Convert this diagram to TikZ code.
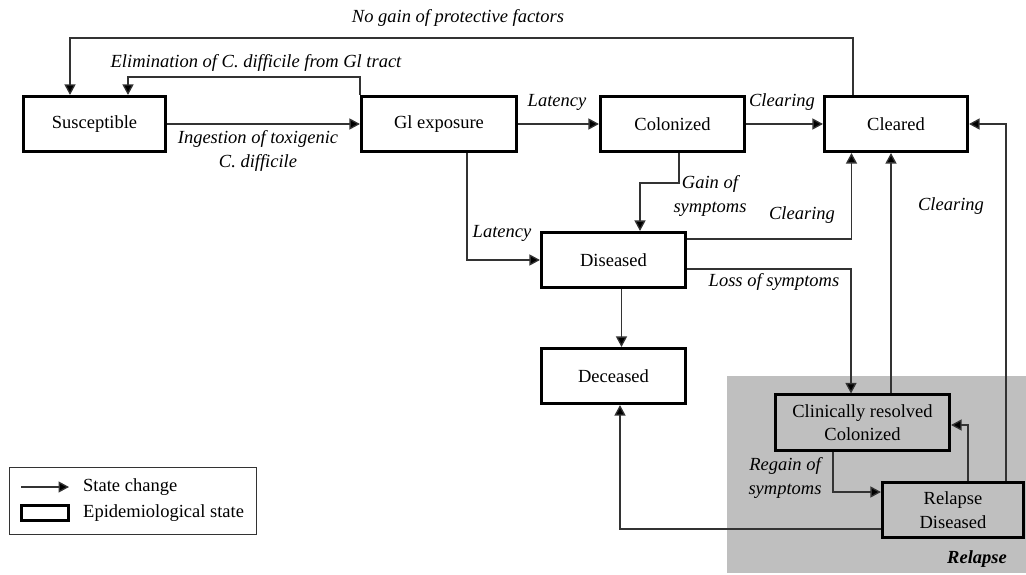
\documentclass[tikz,border=0pt]{standalone}
\usepackage{fontspec}
\setmainfont{Liberation Serif}
\usetikzlibrary{arrows.meta}
\begin{document}
\begin{tikzpicture}[x=1pt,y=-1pt,
  every node/.style={font=\fontsize{18.5}{23.5}\selectfont},
  state/.style={draw=black,line width=2.6pt,fill=white,minimum height=55.5pt,inner sep=0pt,align=center},
  lab/.style={font=\fontsize{18.5}{23.5}\selectfont\itshape,inner sep=0pt,align=center},
  arr/.style={draw=black!80,line width=1.3pt,-{Triangle[length=10.5pt,width=11pt,fill=black]}}]
\useasboundingbox (0,0) rectangle (1026,575);
% relapse region
\node[fill=black!25,inner sep=0pt,minimum width=299pt,minimum height=197pt,anchor=north west] (relbg) at (727,376) {};
\node[font=\fontsize{18.5}{23.5}\selectfont\bfseries\itshape,inner sep=0pt] (rellab) at (977,559) {Relapse};
% states
\node[state,minimum width=142.5pt] (sus) at (94.5,124) {Susceptible};
\node[state,minimum width=155.5pt] (gi) at (439,124) {Gl exposure};
\node[state,minimum width=144.5pt] (col) at (672.5,124) {Colonized};
\node[state,minimum width=143.5pt] (clr) at (896,124) {Cleared};
\node[state,minimum width=144.5pt] (dis) at (613.5,260) {Diseased};
\node[state,minimum width=143.5pt] (dec) at (613.5,376) {Deceased};
\node[state,fill=black!25,minimum width=174.5pt] (cli) at (862.5,422.5) {Clinically resolved\\Colonized};
\node[state,fill=black!25,minimum width=141.5pt] (rel) at (953,510) {Relapse\\Diseased};
% helper coordinates
\coordinate (topy) at (0,38);
\coordinate (elimy) at (0,77);
\coordinate (gainy) at (0,183);
% connectors
\draw[arr] (sus) -- (gi);
\draw[arr] (gi) -- (col);
\draw[arr] (col) -- (clr);
\draw[arr] ([xshift=-43pt]clr.north) -- ([xshift=-43pt]clr.north |- topy) -| ([xshift=-24.5pt]sus.north);
\draw[arr] (gi.north west) -- (gi.north west |- elimy) -| ([xshift=33.5pt]sus.north);
\draw[arr] ([xshift=28pt]gi.south) |- (dis.west);
\draw[arr] ([xshift=6.5pt]col.south) -- ([xshift=6.5pt]col.south |- gainy) -| ([xshift=26.5pt]dis.north);
\draw[arr] ([yshift=21pt]dis.east) -| ([xshift=-44.5pt]clr.south);
\draw[arr] ([yshift=-9pt]dis.east) -| ([xshift=-11.5pt]cli.north);
\draw[arr] ([xshift=28.5pt]cli.north) -- ([xshift=-5pt]clr.south);
\draw[arr] ([xshift=53pt]rel.north) |- (clr.east);
\draw[arr] ([xshift=15pt]rel.north) |- ([yshift=-2.5pt]cli.east);
\draw[arr] ([xshift=-29.5pt]cli.south) |- ([yshift=18pt]rel.west);
\draw[arr] ([yshift=-19pt]rel.west) -| ([xshift=6.5pt]dec.south);
\draw[arr] ([xshift=8pt]dis.south) -- ([xshift=8pt]dec.north);
% labels
\node[lab] (l1) at (458,18) {No gain of protective factors};
\node[lab] (l2) at (256,63) {Elimination of C. difficile from Gl tract};
\node[lab] (l3) at (258,151) {Ingestion of toxigenic\\C. difficile};
\node[lab] (l4) at (557,102) {Latency};
\node[lab] (l5) at (782,102) {Clearing};
\node[lab] (l6) at (710,196) {Gain of\\symptoms};
\node[lab] (l7) at (802,215) {Clearing};
\node[lab] (l8) at (951,206) {Clearing};
\node[lab] (l9) at (502,233) {Latency};
\node[lab] (l10) at (774,282) {Loss of symptoms};
\node[lab] (l11) at (785,478) {Regain of\\symptoms};
% legend
\node[draw=black!80,line width=1.2pt,minimum width=247pt,minimum height=67pt,inner sep=0pt,anchor=north west] (leg) at (8.5,466.5) {};
\coordinate (la1) at (21,487);
\coordinate (la2) at (69,487);
\draw[arr] (la1) -- (la2);
\node[anchor=west,inner sep=0pt] (lt1) at (83,487) {State change};
\node[draw=black,line width=2.6pt,minimum width=47.5pt,minimum height=15.5pt,inner sep=0pt] (lbox) at (45,513) {};
\node[anchor=west,inner sep=0pt] (lt2) at (83,513) {Epidemiological state};
\end{tikzpicture}
\end{document}
